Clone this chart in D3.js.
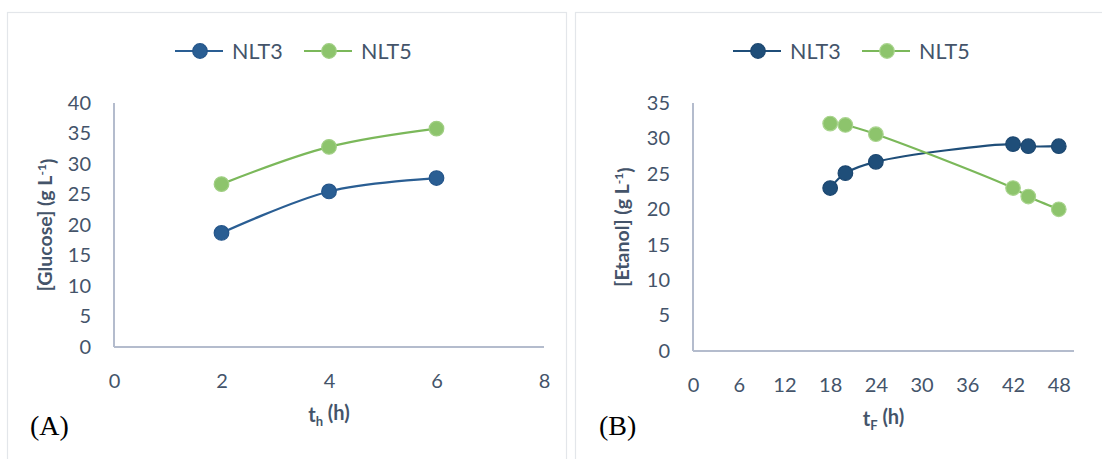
<!DOCTYPE html>
<html>
<head>
<meta charset="utf-8">
<script src="https://cdn.jsdelivr.net/npm/d3@7"></script>
<style>
  html, body { margin: 0; padding: 0; background: #fff; }
  svg { display: block; }
</style>
</head>
<body>
<svg id="chart" width="1102" height="459"></svg>
<script>
// Panel A: glucose during hydrolysis
const glucoseTime = [2, 4, 6];
const glucoseNLT3 = [18.7, 25.5, 27.7];
const glucoseNLT5 = [26.7, 32.8, 35.8];
const glucoseXTicks = [0, 2, 4, 6, 8];
const glucoseYTicks = [0, 5, 10, 15, 20, 25, 30, 35, 40];

// Panel B: ethanol during fermentation
const ethanolTime = [18, 20, 24, 42, 44, 48];
const ethanolNLT3 = [23.0, 25.1, 26.7, 29.2, 28.9, 28.9];
const ethanolNLT5 = [32.1, 31.9, 30.6, 23.0, 21.8, 20.0];
const ethanolXTicks = [0, 6, 12, 18, 24, 30, 36, 42, 48];
const ethanolYTicks = [0, 5, 10, 15, 20, 25, 30, 35];

const seriesNames = ["NLT3", "NLT5"];

const svg = d3.select("#chart");
const textColor = "#44546A";
const axisColor = "#B4BCCD";
const fontFamily = "Lato, 'Open Sans', sans-serif";

function drawPanel(cfg) {
  const g = svg.append("g");

  // frame
  g.append("rect")
    .attr("x", cfg.frame[0] + 0.5).attr("y", cfg.frame[1] + 0.5)
    .attr("width", cfg.frame[2]).attr("height", cfg.frame[3])
    .attr("fill", "none").attr("stroke", "#E3E6EA").attr("stroke-width", 1.2);

  const x = d3.scaleLinear().domain(cfg.xDomain).range([cfg.plot.left, cfg.plot.right]);
  const y = d3.scaleLinear().domain(cfg.yDomain).range([cfg.plot.bottom, cfg.plot.top]);

  // axes
  const xAxis = g.append("g")
    .attr("transform", `translate(0,${cfg.plot.bottom})`)
    .call(d3.axisBottom(x).tickValues(cfg.xTicks).tickSize(0).tickPadding(22));
  const yAxis = g.append("g")
    .attr("transform", `translate(${cfg.plot.left},0)`)
    .call(d3.axisLeft(y).tickValues(cfg.yTicks).tickSize(0).tickPadding(23));
  [xAxis, yAxis].forEach(a => {
    a.select(".domain").attr("stroke", axisColor).attr("stroke-width", 2);
    a.selectAll("text").attr("fill", textColor)
      .style("font-family", fontFamily).style("font-size", "20px");
  });
  xAxis.selectAll("text").attr("dy", "0.35em").attr("y", 34);
  yAxis.select(".domain").attr("d", `M0,${cfg.plot.top}V${cfg.plot.bottom}`);
  xAxis.select(".domain").attr("d", `M${cfg.plot.left},0H${cfg.plot.right}`);

  // series
  const series = [
    { name: seriesNames[0], vals: cfg.s1, line: cfg.c1.line, fill: cfg.c1.fill, stroke: cfg.c1.stroke },
    { name: seriesNames[1], vals: cfg.s2, line: cfg.c2.line, fill: cfg.c2.fill, stroke: cfg.c2.stroke }
  ];
  const line = d3.line()
    .x(d => x(d[0])).y(d => y(d[1]))
    .curve(d3.curveCatmullRom.alpha(0.5));

  series.forEach(s => {
    const pts = cfg.xs.map((t, i) => [t, s.vals[i]]);
    g.append("path").datum(pts)
      .attr("d", line).attr("fill", "none")
      .attr("stroke", s.line).attr("stroke-width", 2.2);
  });
  series.forEach(s => {
    const pts = cfg.xs.map((t, i) => [t, s.vals[i]]);
    g.selectAll(null).data(pts).enter().append("circle")
      .attr("cx", d => x(d[0])).attr("cy", d => y(d[1])).attr("r", 7.3)
      .attr("fill", s.fill).attr("stroke", s.stroke).attr("stroke-width", 1.2);
  });

  // legend
  series.forEach((s, i) => {
    const lx = cfg.legendX[i];
    const ly = 51;
    g.append("line").attr("x1", lx).attr("x2", lx + 48).attr("y1", ly).attr("y2", ly)
      .attr("stroke", s.line).attr("stroke-width", 2.2);
    g.append("circle").attr("cx", lx + 25).attr("cy", ly).attr("r", 7.3)
      .attr("fill", s.fill).attr("stroke", s.stroke).attr("stroke-width", 1.2);
    g.append("text").attr("x", lx + 57).attr("y", ly).attr("dy", "0.36em")
      .attr("fill", textColor).style("font-family", fontFamily).style("font-size", "21.5px")
      .text(s.name);
  });

  // y-axis title
  const yt = g.append("text")
    .attr("transform", `translate(${cfg.yTitleX},${(cfg.plot.top + cfg.plot.bottom) / 2}) rotate(-90)`)
    .attr("text-anchor", "middle").attr("dy", "0.35em")
    .attr("fill", textColor).style("font-family", fontFamily)
    .style("font-size", "19.5px").style("font-weight", "bold");
  yt.append("tspan").text(cfg.yTitle + " (g L");
  yt.append("tspan").attr("dy", "-0.45em").style("font-size", "12px").text("-1");
  yt.append("tspan").attr("dy", "0.45em").text(")");

  // x-axis title
  const xt = g.append("text")
    .attr("x", (cfg.plot.left + cfg.plot.right) / 2).attr("y", cfg.xTitleY)
    .attr("text-anchor", "middle")
    .attr("fill", textColor).style("font-family", fontFamily)
    .style("font-size", "20px").style("font-weight", "bold");
  xt.append("tspan").text("t");
  xt.append("tspan").attr("dy", "0.3em").style("font-size", "13px").text(cfg.xSub);
  xt.append("tspan").attr("dy", "-0.3em").text(" (h)");

  // panel letter
  g.append("text").attr("x", cfg.letterX).attr("y", 435)
    .attr("fill", "#000").style("font-family", "'Liberation Serif', 'Times New Roman', serif")
    .style("font-size", "28px").text(cfg.letter);
}

drawPanel({
  frame: [7, 12, 559, 460],
  plot: { left: 114, right: 544, top: 103, bottom: 347 },
  xDomain: [0, 8], yDomain: [0, 40],
  xTicks: glucoseXTicks, yTicks: glucoseYTicks,
  xs: glucoseTime, s1: glucoseNLT3, s2: glucoseNLT5,
  c1: { line: "#2A5E93", fill: "#2A5E93", stroke: "#24558A" },
  c2: { line: "#7BB85A", fill: "#8DC46C", stroke: "#9FCE82" },
  legendX: [175, 304],
  yTitle: "[Glucose]", yTitleX: 45,
  xSub: "h", xTitleY: 422,
  letter: "(A)", letterX: 30
});

drawPanel({
  frame: [575, 12, 540, 460],
  plot: { left: 693, right: 1074, top: 103, bottom: 351 },
  xDomain: [0, 50], yDomain: [0, 35],
  xTicks: ethanolXTicks, yTicks: ethanolYTicks,
  xs: ethanolTime, s1: ethanolNLT3, s2: ethanolNLT5,
  c1: { line: "#1F4E79", fill: "#1F4E79", stroke: "#1C4770" },
  c2: { line: "#7BB85A", fill: "#8DC46C", stroke: "#A9D48E" },
  legendX: [733, 862],
  yTitle: "[Etanol]", yTitleX: 622,
  xSub: "F", xTitleY: 426,
  letter: "(B)", letterX: 599
});
</script>
</body>
</html>
